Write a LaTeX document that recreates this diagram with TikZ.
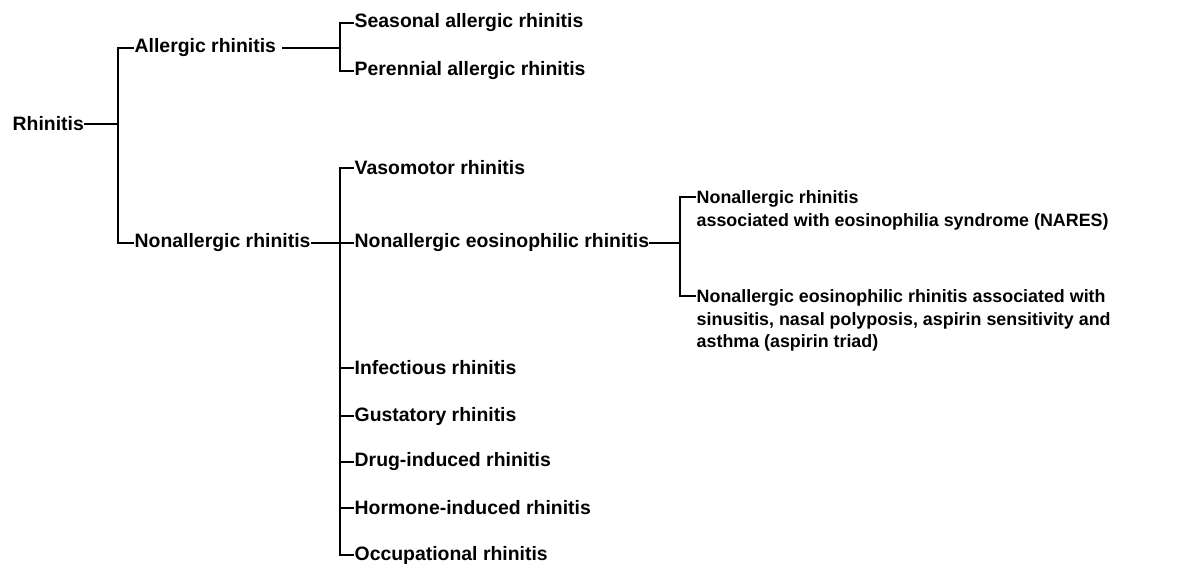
\documentclass[tikz,border=0pt]{standalone}
\usepackage{fontspec}
\setmainfont{Liberation Sans}
\usetikzlibrary{positioning}
\tikzset{
  lbl/.style={anchor=west, inner sep=1pt, font=\bfseries\fontsize{13.8}{16}\selectfont},
  lbllong/.style={lbl, anchor=north west, align=left, font=\bfseries\fontsize{12.7}{16}\selectfont},
  link/.style={line width=2pt, line cap=rect}
}

\begin{document}
\begin{tikzpicture}[x=0.025cm, y=-0.025cm]
                \useasboundingbox (0,0) rectangle (1182,576);
                % first split
                \node[lbl] (rhin) at (11,124) {Rhinitis};
                \coordinate (j1) at (118,124);
                \node[lbl] (aller) at (133,48) {Allergic rhinitis};
                \node[lbl] (nonal) at (133,243) {Nonallergic rhinitis};
                \draw[link] (rhin.east) -- (j1);
                \draw[link] (aller.west) -| (j1) |- (nonal.west);
                
                % allergic forms
                \coordinate (j2) at (340,48);
                \node[lbl] (seas) at (353,23) {Seasonal allergic rhinitis};
                \node[lbl] (peren) at (353,71) {Perennial allergic rhinitis};
                \draw[link] ([xshift=4pt]aller.east) -- (j2 |- aller.east);
                \draw[link] (seas.west) -| (j2) |- (peren.west);
                
                % nonallergic forms
                \coordinate (j3) at (340,243);
                \node[lbl] (vaso) at (353,168) {Vasomotor rhinitis};
                \node[lbl] (eosin) at (353,243) {Nonallergic eosinophilic rhinitis};
                \node[lbl] (infect) at (353,368) {Infectious rhinitis};
                \node[lbl] (gust) at (353,416) {Gustatory rhinitis};
                \node[lbl] (drug) at (353,462) {Drug-induced rhinitis};
                \node[lbl] (horm) at (353,508) {Hormone-induced rhinitis};
                \node[lbl] (occup) at (353,555) {Occupational rhinitis};
                \draw[link] (nonal.east) -- (eosin.west);
                \draw[link] (vaso.west) -| (j3) |- (occup.west);
                \foreach \n in {infect, gust, drug, horm}
                  \draw[link] (j3 |- \n.west) -- (\n.west);
                
                % eosinophilic subtypes
                \coordinate (j4) at (680,243);
                \coordinate (t1) at (680,197);
                \coordinate (t2) at (680,296);
                \node[lbllong] (nares) at (695,189)
                  {Nonallergic rhinitis\\associated with eosinophilia syndrome (NARES)};
                \node[lbllong] (triad) at (695,288)
                  {Nonallergic eosinophilic rhinitis associated with\\sinusitis, nasal polyposis, aspirin sensitivity and\\asthma (aspirin triad)};
                \draw[link] (eosin.east) -- (j4 |- eosin.east);
                \draw[link] (nares.west |- t1) -| (j4) |- (triad.west |- t2);
            \end{tikzpicture}
\end{document}
